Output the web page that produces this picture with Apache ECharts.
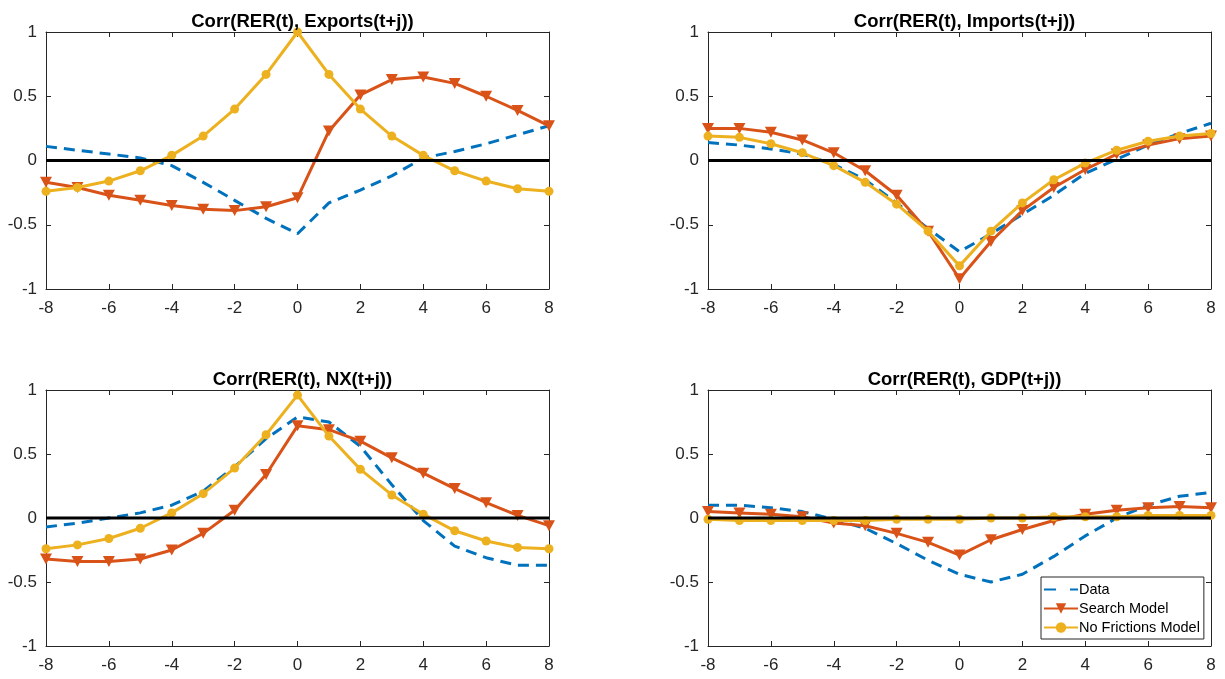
<!DOCTYPE html>
<html>
<head>
<meta charset="utf-8">
<script src="https://cdn.jsdelivr.net/npm/echarts@6/dist/echarts.min.js"></script>
<style>
  html, body { margin: 0; padding: 0; background: #fff; }
  #main { width: 1225px; height: 679px; }
</style>
</head>
<body>
<div id="main"></div>
<script>
var lags = [-8, -7, -6, -5, -4, -3, -2, -1, 0, 1, 2, 3, 4, 5, 6, 7, 8];

var titles = ['Corr(RER(t), Exports(t+j))', 'Corr(RER(t), Imports(t+j))', 'Corr(RER(t), NX(t+j))', 'Corr(RER(t), GDP(t+j))'];
var seriesNames = ['Data', 'Search Model', 'No Frictions Model'];
var xTicks = { min: -8, max: 8, interval: 2 };
var yTicks = { min: -1, max: 1, interval: 0.5 };

// exports
var dataExports = [0.11, 0.08, 0.05, 0.02, -0.04, -0.17, -0.31, -0.45, -0.57, -0.33, -0.23, -0.12, 0.02, 0.07, 0.13, 0.20, 0.27];
var searchExports = [-0.17, -0.21, -0.27, -0.31, -0.35, -0.38, -0.39, -0.36, -0.29, 0.23, 0.51, 0.63, 0.65, 0.60, 0.50, 0.39, 0.27];
var noFricExports = [-0.24, -0.21, -0.16, -0.08, 0.04, 0.19, 0.40, 0.67, 1.00, 0.67, 0.40, 0.19, 0.04, -0.08, -0.16, -0.22, -0.24];

// imports
var dataImports = [0.14, 0.12, 0.09, 0.05, -0.03, -0.15, -0.33, -0.53, -0.71, -0.57, -0.42, -0.27, -0.10, 0.01, 0.12, 0.21, 0.29];
var searchImports = [0.25, 0.25, 0.22, 0.16, 0.06, -0.08, -0.27, -0.55, -0.92, -0.63, -0.39, -0.21, -0.07, 0.05, 0.12, 0.17, 0.19];
var noFricImports = [0.19, 0.18, 0.13, 0.06, -0.04, -0.17, -0.34, -0.55, -0.82, -0.55, -0.33, -0.15, -0.02, 0.08, 0.15, 0.19, 0.21];

// net exports
var dataNX = [-0.07, -0.04, 0.00, 0.04, 0.10, 0.21, 0.40, 0.62, 0.79, 0.75, 0.56, 0.26, -0.02, -0.22, -0.31, -0.37, -0.37];
var searchNX = [-0.32, -0.34, -0.34, -0.32, -0.25, -0.12, 0.06, 0.34, 0.72, 0.69, 0.60, 0.47, 0.35, 0.23, 0.12, 0.02, -0.06];
var noFricNX = [-0.24, -0.21, -0.16, -0.08, 0.04, 0.19, 0.39, 0.65, 0.96, 0.64, 0.38, 0.18, 0.03, -0.10, -0.18, -0.23, -0.24];

// gdp
var dataGDP = [0.10, 0.10, 0.08, 0.05, -0.01, -0.08, -0.20, -0.33, -0.44, -0.50, -0.44, -0.30, -0.14, 0.00, 0.10, 0.17, 0.20];
var searchGDP = [0.05, 0.04, 0.03, 0.01, -0.04, -0.06, -0.12, -0.19, -0.29, -0.17, -0.09, -0.02, 0.03, 0.06, 0.08, 0.09, 0.08];
var noFricGDP = [-0.01, -0.02, -0.02, -0.02, -0.02, -0.02, -0.01, -0.01, -0.01, 0.00, 0.00, 0.01, 0.01, 0.01, 0.02, 0.02, 0.02];

var panels = [
    [dataExports, searchExports, noFricExports],
    [dataImports, searchImports, noFricImports],
    [dataNX, searchNX, noFricNX],
    [dataGDP, searchGDP, noFricGDP]
];

var grids = [
    { left: 46, top: 32, width: 503, height: 257 },
    { left: 708, top: 32, width: 503, height: 257 },
    { left: 46, top: 390, width: 503, height: 256 },
    { left: 708, top: 390, width: 503, height: 256 }
];

var axisColor = '#262626';
var font = 'Liberation Sans, Arial, Helvetica, sans-serif';

function pairs(ys) {
    return lags.map(function (x, i) { return [x, ys[i]]; });
}

var option = {
    animation: false,
    backgroundColor: '#fff',
    title: [],
    grid: [],
    xAxis: [],
    yAxis: [],
    series: [],
    legend: {
        data: [
            { name: seriesNames[0], itemStyle: { opacity: 0 }, lineStyle: { type: [12, 14] } },
            seriesNames[1],
            seriesNames[2]
        ],
        orient: 'vertical',
        left: 1041,
        top: 577,
        padding: [5, 4, 4, 2],
        itemGap: 4,
        itemWidth: 34,
        itemHeight: 13,
        backgroundColor: '#fff',
        borderColor: axisColor,
        borderWidth: 1,
        borderRadius: 0,
        selectedMode: false,
        textStyle: { fontFamily: font, fontSize: 14.5, color: '#000', padding: [0, 0, 0, -4] }
    }
};

grids.forEach(function (g, i) {
    option.grid.push({ left: g.left, top: g.top, width: g.width, height: g.height, containLabel: false });
    option.title.push({
        text: titles[i],
        left: g.left + g.width / 2,
        top: g.top - 25,
        textAlign: 'center',
        textStyle: { fontFamily: font, fontSize: 18.5, fontWeight: 'bold', color: '#000' }
    });

    var tick = { show: true, inside: true, length: 5, lineStyle: { color: axisColor } };
    var line = { show: true, onZero: false, lineStyle: { color: axisColor, width: 1 } };
    var label = { fontFamily: font, fontSize: 17, color: axisColor };

    option.xAxis.push({
        gridIndex: i, type: 'value', position: 'bottom',
        min: xTicks.min, max: xTicks.max, interval: xTicks.interval,
        axisLine: line, axisTick: tick, splitLine: { show: false },
        axisLabel: Object.assign({ margin: 11 }, label)
    });
    option.xAxis.push({
        gridIndex: i, type: 'value', position: 'top',
        min: xTicks.min, max: xTicks.max, interval: xTicks.interval,
        axisLine: line, axisTick: tick, splitLine: { show: false },
        axisLabel: { show: false }
    });
    option.yAxis.push({
        gridIndex: i, type: 'value', position: 'left',
        min: yTicks.min, max: yTicks.max, interval: yTicks.interval,
        axisLine: line, axisTick: tick, splitLine: { show: false },
        axisLabel: Object.assign({ margin: 9 }, label)
    });
    option.yAxis.push({
        gridIndex: i, type: 'value', position: 'right',
        min: yTicks.min, max: yTicks.max, interval: yTicks.interval,
        axisLine: line, axisTick: tick, splitLine: { show: false },
        axisLabel: { show: false }
    });

    var ax = { xAxisIndex: 2 * i, yAxisIndex: 2 * i };
    var d = panels[i];

    option.series.push(Object.assign({
        name: seriesNames[0], type: 'line', data: pairs(d[0]),
        symbol: 'none', color: '#0072BD',
        lineStyle: { color: '#0072BD', width: 3, type: [11, 7] }, z: 2
    }, ax));
    option.series.push(Object.assign({
        name: seriesNames[1], type: 'line', data: pairs(d[1]),
        symbol: 'triangle', symbolRotate: 180, symbolSize: [12, 11], color: '#D95319',
        itemStyle: { color: '#D95319' },
        lineStyle: { color: '#D95319', width: 3 }, z: 3
    }, ax));
    option.series.push(Object.assign({
        name: seriesNames[2], type: 'line', data: pairs(d[2]),
        symbol: 'circle', symbolSize: 9, color: '#EDB120',
        itemStyle: { color: '#EDB120' },
        lineStyle: { color: '#EDB120', width: 3 }, z: 4
    }, ax));
    // zero reference line
    option.series.push(Object.assign({
        type: 'line', data: [[xTicks.min, 0], [xTicks.max, 0]],
        symbol: 'none', silent: true,
        lineStyle: { color: '#000', width: 3 }, z: 5
    }, ax));
});

var chart = echarts.init(document.getElementById('main'));
chart.setOption(option);
</script>
</body>
</html>
